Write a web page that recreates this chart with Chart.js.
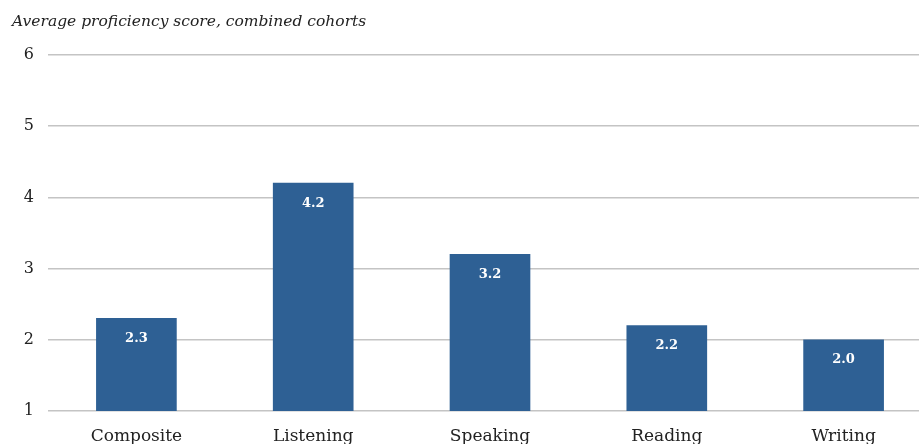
<!DOCTYPE html>
<html><head><meta charset="utf-8">
<script src="https://cdn.jsdelivr.net/npm/chart.js@4"></script>
<style>html,body{margin:0;padding:0;overflow:hidden;background:#fff}#wrap{width:932px;height:444px;position:relative}</style>
</head><body><div id="wrap"><canvas id="c"></canvas></div>
<script>
const categories = ["Composite", "Listening", "Speaking", "Reading", "Writing"];
const scores = [2.3, 4.2, 3.2, 2.2, 2.0];
const yTicks = [1, 2, 3, 4, 5, 6];
const titleText = "Average proficiency score, combined cohorts";

const FONT = "'DejaVu Serif', serif";
const labelPlugin = {
  id: 'barLabels',
  afterDatasetsDraw(chart) {
    const ctx = chart.ctx;
    const meta = chart.getDatasetMeta(0);
    ctx.save();
    ctx.fillStyle = '#ffffff';
    ctx.font = "bold 13px " + FONT;
    ctx.textAlign = 'center';
    ctx.textBaseline = 'middle';
    meta.data.forEach((bar, i) => {
      ctx.fillText(scores[i].toFixed(1), bar.x, bar.y + 20);
    });
    ctx.restore();
  }
};

new Chart(document.getElementById('c'), {
  type: 'bar',
  data: { labels: categories, datasets: [{ data: scores, backgroundColor: '#2e6094', barThickness: 80 }] },
  options: {
    responsive: true, maintainAspectRatio: false, animation: false,
    layout: { padding: { left: 12, right: 0, top: 0, bottom: 0 } },
    plugins: {
      legend: { display: false }, tooltip: { enabled: false },
      title: { display: true, text: titleText, align: 'start', color: '#222',
        font: { family: FONT, size: 15.5, style: 'italic', weight: 'normal' },
        padding: { top: 12.7, bottom: 23.7 } }
    },
    scales: {
      x: { grid: { display: false, drawTicks: false }, border: { display: false },
        afterFit(s) { s.height = 33; },
        ticks: { color: '#222', font: { family: FONT, size: 17 }, padding: 15, maxRotation: 0 } },
      y: { min: 1, max: 6, afterFit(s) { s.width = 36; },
        afterBuildTicks(s) { s.ticks = yTicks.map(v => ({ value: v })); },
        grid: { color: '#c4c4c4', lineWidth: 1.5, drawTicks: false }, border: { display: false },
        ticks: { color: '#222', font: { family: FONT, size: 16 }, padding: 14 } }
    }
  },
  plugins: [labelPlugin]
});
</script></body></html>
